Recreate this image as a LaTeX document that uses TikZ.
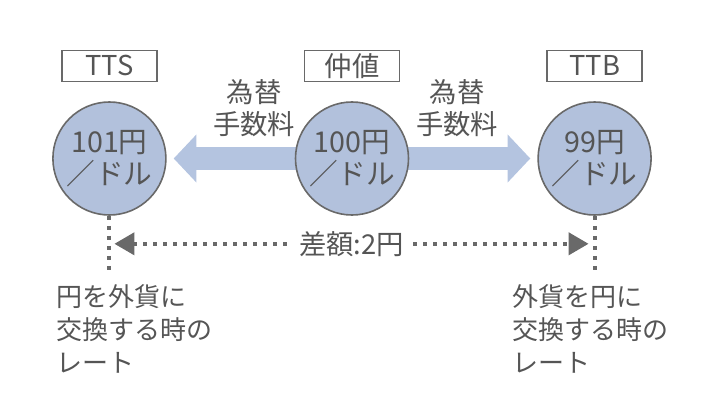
\documentclass[tikz,border=0pt]{standalone}
\usepackage{fontspec}
\setmainfont{Noto Sans CJK JP}
\usepackage{tikz}
\usetikzlibrary{arrows.meta,positioning,calc,backgrounds}
\definecolor{rateblue}{RGB}{178,193,220}
\definecolor{feeblue}{RGB}{180,196,224}
\definecolor{rimgray}{RGB}{105,105,105}
\definecolor{textgray}{RGB}{85,85,85}
\definecolor{dotgray}{RGB}{105,105,105}

\begin{document}
\begin{tikzpicture}[
  x=0.75pt, y=-0.75pt,
  font=\fontsize{20.5pt}{24pt}\selectfont, text=textgray,
  ratecirc/.style={circle, draw=rimgray, line width=1.2pt, fill=rateblue,
                   minimum size=84.75pt, inner sep=0pt, align=center,
                   font=\fontsize{21.5pt}{23.5pt}\selectfont},
  tagbox/.style={draw=rimgray, line width=1pt, minimum width=71.25pt,
                 minimum height=23.25pt, inner sep=0pt},
  feearr/.style={feeblue, line width=17pt,
                 -{Triangle[length=17pt,width=35pt]}, shorten >=5.25pt},
  dotline/.style={dotgray, line width=3pt, dash pattern=on 3pt off 4.5pt},
  notetext/.style={anchor=north west, align=left, inner sep=0pt,
                   font=\fontsize{19.5pt}{25pt}\selectfont},
  node distance=96pt
]
\useasboundingbox (0,0) rectangle (720,406);

%% Rate circles
\node[ratecirc] (midc) at (352,158.5) {100円\\／ドル};
\node[ratecirc, left=of midc]  (ttsc) {101円\\／ドル};
\node[ratecirc, right=of midc] (ttbc) {99円\\／ドル};

%% Tags above the circles
\node[tagbox, above=14.5pt of ttsc] (ttstag) {TTS};
\node[tagbox, above=14.5pt of midc] (midtag) {仲値};
\node[tagbox, above=14.5pt of ttbc] (ttbtag) {TTB};

%% Fee arrows behind the circles
\begin{scope}[on background layer]
  \draw[feearr] (midc.center) -- (ttsc.east);
  \draw[feearr] (midc.center) -- (ttbc.west);
\end{scope}
\node[align=center] (feel) at (254,108) {為替\\手数料};
\node[align=center] (feer) at (457,108) {為替\\手数料};

%% Dotted drop lines and the spread
\draw[dotline] (ttsc.south) -- ++(0,57) coordinate (ttsfoot);
\draw[dotline] (ttbc.south) -- ++(0,57) coordinate (ttbfoot);
\coordinate (gapl) at ($(ttsc.south)+(5,28)$);
\coordinate (gapr) at ($(ttbc.south)+(-6,28)$);
\draw[dotline, {Triangle[length=15pt,width=16.5pt]}-{Triangle[length=15pt,width=16.5pt]}]
  (gapl) -- (gapr) node[midway, fill=white, inner xsep=6pt, text=textgray] (spread) {差額:2円};

%% Notes under the lines
\node[notetext] (buynote)  at (56,284)  {円を外貨に\\交換する時の\\レート};
\node[notetext] (sellnote) at (512,284) {外貨を円に\\交換する時の\\レート};

\end{tikzpicture}
\end{document}
